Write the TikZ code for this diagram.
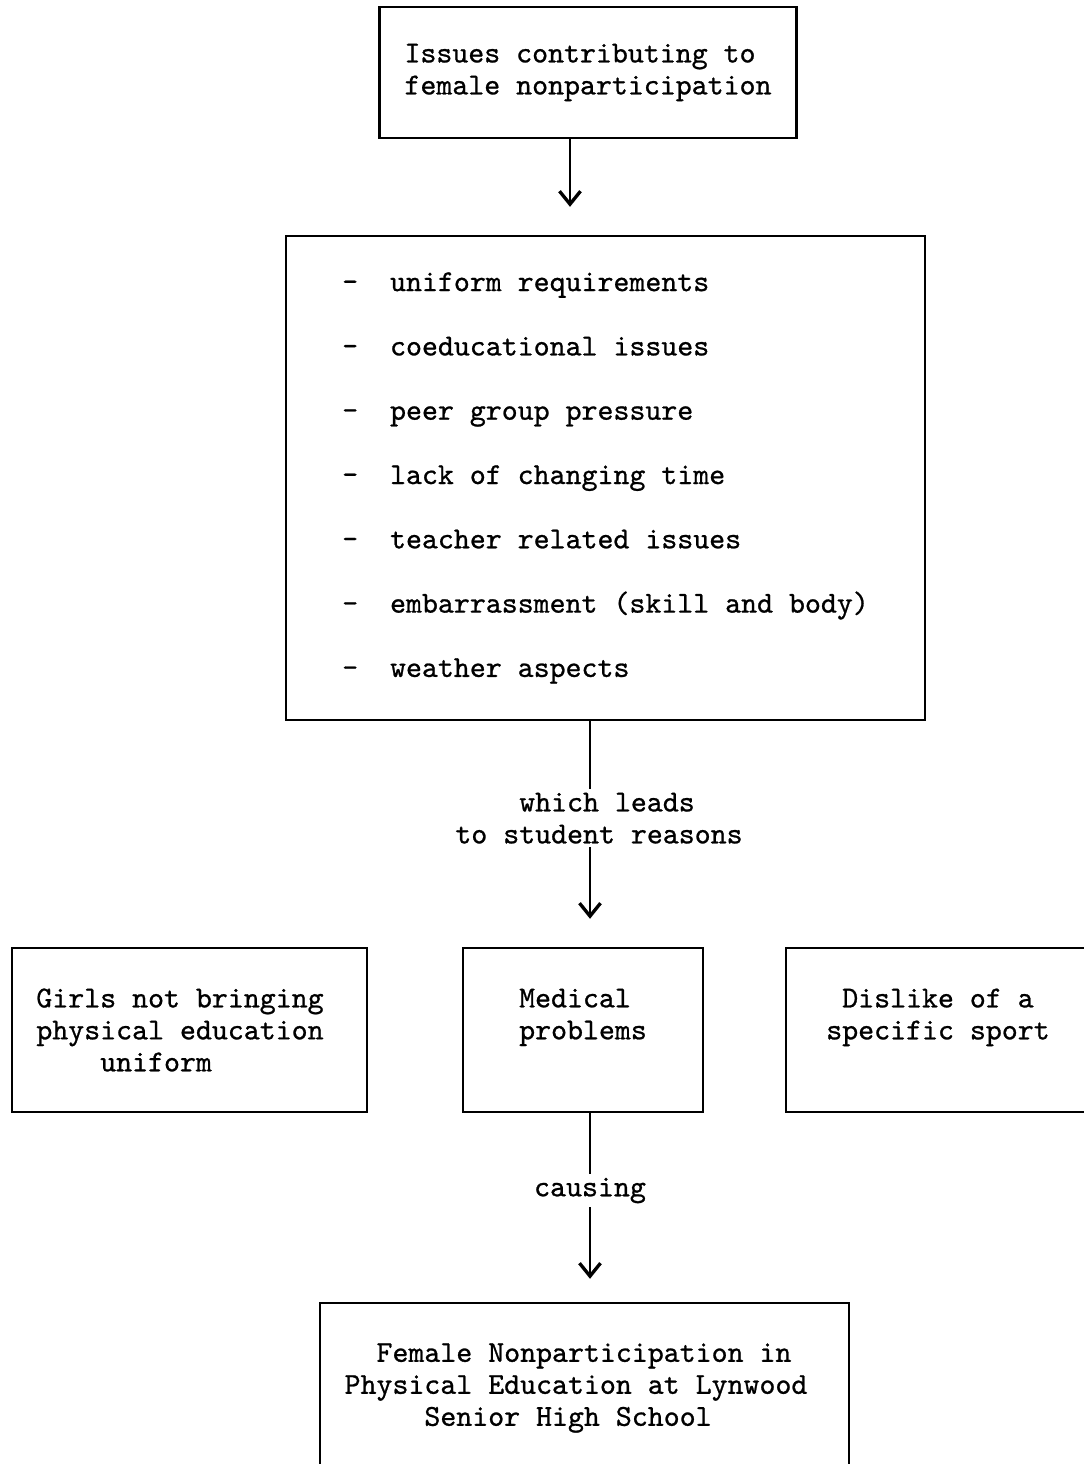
\documentclass[tikz,border=0pt]{standalone}
\usepackage{fontspec}
\newfontfamily\typer{lmmono10-regular.otf}[FakeBold=0.8]
\usetikzlibrary{arrows.meta}
\begin{document}
\begin{tikzpicture}[x=0.02cm,y=-0.02cm,
  box/.style={draw, line width=1.4pt, inner sep=0pt, align=left, font={\typer\fontsize{17.3}{18.2}\selectfont}},
  lbl/.style={fill=white, inner sep=2pt, align=left, font={\typer\fontsize{17.3}{18.2}\selectfont}},
  arr/.style={line width=1pt, -{Straight Barb[length=0.26cm,width=0.42cm,line width=1.9pt]}}]
\useasboundingbox (0,0) rectangle (1084,1464);
\clip (0,0) rectangle (1084,1464);
\node[box, minimum width=8.34cm, minimum height=2.62cm] (issues) at (588,72.5) {Issues contributing to\\female nonparticipation};
\node[box, minimum width=12.78cm, minimum height=9.68cm, font={\typer\fontsize{17.3}{36.6}\selectfont}] (reasons) at (605.5,478)
  {-~~uniform requirements\\-~~coeducational issues\\-~~peer group pressure\\-~~lack of changing time\\-~~teacher related issues\\-~~embarrassment (skill and body)\\-~~weather aspects};
\node[box, minimum width=7.1cm, minimum height=3.28cm] (girls) at (189.5,1030) {Girls not bringing\kern0.38cm\\physical education\\\hphantom{0000}uniform};
\node[box, minimum width=4.8cm, minimum height=3.28cm] (medical) at (583,1030) {Medical\\problems\\\mbox{}};
\node[box, align=center, minimum width=6.08cm, minimum height=3.28cm] (dislike) at (938,1030) {Dislike of a\\specific sport\\\mbox{}};
\node[box, minimum width=10.58cm, minimum height=3.4cm] (female) at (584.5,1388) {\hphantom{00}Female Nonparticipation in\\Physical Education at Lynwood\kern0.34cm\\\hphantom{00000}Senior High School};
\coordinate (a1) at ([xshift=-0.36cm]issues.south);
\coordinate (a2) at ([xshift=-0.31cm]reasons.south);
\coordinate (a3) at ([xshift=0.14cm]medical.south);
\draw[arr, shorten >=0.56cm] (a1) -- (a1 |- reasons.north);
\draw[arr, shorten >=0.56cm] (a2) -- node[lbl, pos=0.43, xshift=0.18cm] {\hphantom{0000}which leads\\to student reasons} (a2 |- medical.north);
\draw[arr, shorten >=0.46cm] (a3) -- node[lbl, pos=0.41] {causing} (a3 |- female.north);
\end{tikzpicture}
\end{document}
